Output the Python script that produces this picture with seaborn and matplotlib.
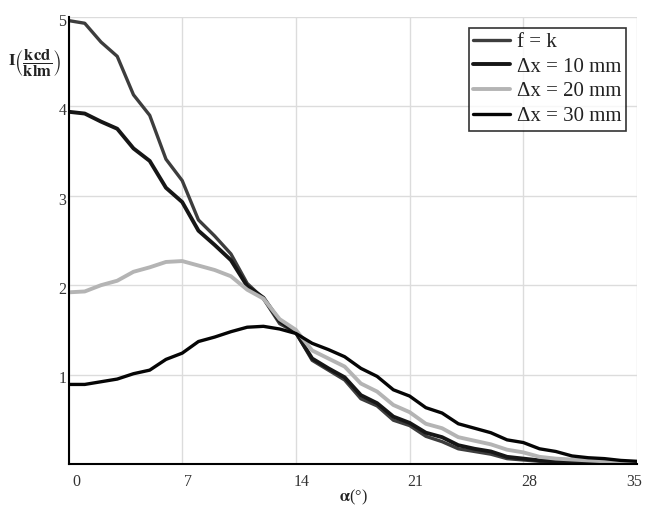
import matplotlib
matplotlib.use("Agg")
import matplotlib.pyplot as plt
import matplotlib.transforms as mtransforms
import seaborn as sns
import pandas as pd
import numpy as np

alpha = list(range(0, 36))
f_k = [4.96, 4.93, 4.72, 4.56, 4.13, 3.90, 3.41, 3.17, 2.73, 2.55, 2.35, 2.02, 1.85, 1.57, 1.47,
       1.16, 1.05, 0.94, 0.73, 0.65, 0.49, 0.43, 0.31, 0.25, 0.17, 0.14, 0.11, 0.06, 0.045, 0.03,
       0.02, 0.01, 0.008, 0.005, 0.003, 0.0]
dx10 = [3.94, 3.92, 3.83, 3.75, 3.53, 3.39, 3.09, 2.93, 2.61, 2.45, 2.28, 1.99, 1.86, 1.60, 1.47,
        1.18, 1.07, 0.97, 0.77, 0.68, 0.53, 0.46, 0.35, 0.30, 0.21, 0.17, 0.14, 0.08, 0.06, 0.04,
        0.03, 0.02, 0.015, 0.01, 0.005, 0.003]
dx20 = [1.92, 1.93, 2.00, 2.05, 2.15, 2.20, 2.26, 2.27, 2.22, 2.17, 2.10, 1.95, 1.85, 1.62, 1.50,
        1.27, 1.18, 1.09, 0.90, 0.81, 0.66, 0.58, 0.45, 0.40, 0.30, 0.26, 0.22, 0.16, 0.13, 0.08,
        0.06, 0.05, 0.04, 0.03, 0.02, 0.02]
dx30 = [0.89, 0.89, 0.92, 0.95, 1.01, 1.05, 1.17, 1.24, 1.37, 1.42, 1.48, 1.53, 1.54, 1.51, 1.46,
        1.35, 1.28, 1.20, 1.07, 0.98, 0.83, 0.76, 0.63, 0.57, 0.45, 0.40, 0.35, 0.27, 0.24, 0.17,
        0.14, 0.09, 0.07, 0.06, 0.04, 0.03]

labels = ["f = k", "Δx = 10 mm", "Δx = 20 mm", "Δx = 30 mm"]
series = [f_k, dx10, dx20, dx30]
colors = ["#3d3d3d", "#161616", "#b4b4b4", "#050505"]
widths = [2.4, 2.8, 2.8, 2.4]
xticks = [0, 7, 14, 21, 28, 35]
yticks = [1, 2, 3, 4, 5]

sns.set_theme(style="white")
plt.rcParams['font.family'] = ['Liberation Serif', 'DejaVu Serif']
plt.rcParams['mathtext.fontset'] = 'stix'

fig = plt.figure(figsize=(6.49, 5.07), dpi=100)
ax = fig.add_axes([68.5 / 649, 1 - 464 / 507, (637 - 68.5) / 649, (464 - 17) / 507])

for lab, vals, c, w in zip(labels, series, colors, widths):
    df = pd.DataFrame({"alpha": alpha, "I": vals})
    sns.lineplot(data=df, x="alpha", y="I", ax=ax, color=c, linewidth=w, label=lab)

ax.set_xlim(0, 35)
ax.set_ylim(0, 5)
ax.set_xticks(xticks)
ax.set_yticks([0] + yticks)
ax.set_yticklabels([""] + [str(v) for v in yticks])
ax.set_xticklabels([str(v) for v in xticks])
ax.grid(True, color="#dcdcdc", linewidth=1.0)
ax.set_axisbelow(True)
for s in ["top", "right"]:
    ax.spines[s].set_visible(False)
for s in ["left", "bottom"]:
    ax.spines[s].set_color("black")
    ax.spines[s].set_linewidth(1.5)
ax.tick_params(axis="both", direction="inout", length=9, width=1.3, color="black",
               labelsize=11.5, labelcolor="#333333")
ax.tick_params(axis="y", pad=-3)
ax.tick_params(axis="x", pad=3)
xt = ax.get_xticklabels()
for i, t in enumerate(xt):
    dx = 6 / 72 if i == 0 else (4 / 72 if i < len(xt) - 1 else -2 / 72)
    t.set_transform(t.get_transform() + mtransforms.ScaledTranslation(dx, 0, fig.dpi_scale_trans))
for t in ax.get_yticklabels():
    t.set_transform(t.get_transform() + mtransforms.ScaledTranslation(0, -2 / 72, fig.dpi_scale_trans))
ax.set_xlabel("")
ax.set_ylabel("")

fig.text(353 / 649, 1 - 497 / 507, r"$\mathbf{\alpha}$(°)", ha="center", va="center",
         fontsize=11.5, color="#222222")
fig.text(8 / 649, 1 - 63 / 507, r"$\mathbf{I}\left(\dfrac{\mathbf{kcd}}{\mathbf{klm}}\right)$",
         ha="left", va="center", fontsize=12, color="#222222")

leg = ax.legend(loc="upper right", bbox_to_anchor=(626 / 649, 1 - 28 / 507),
                bbox_transform=fig.transFigure, frameon=True, fancybox=False,
                edgecolor="black", fontsize=15, handlelength=1.75, handletextpad=0.35,
                borderpad=0.22, labelspacing=0.24, borderaxespad=0)
leg.get_frame().set_linewidth(1.2)
for txt in leg.get_texts():
    txt.set_color("#222222")

fig.savefig("out.png", dpi=100)
